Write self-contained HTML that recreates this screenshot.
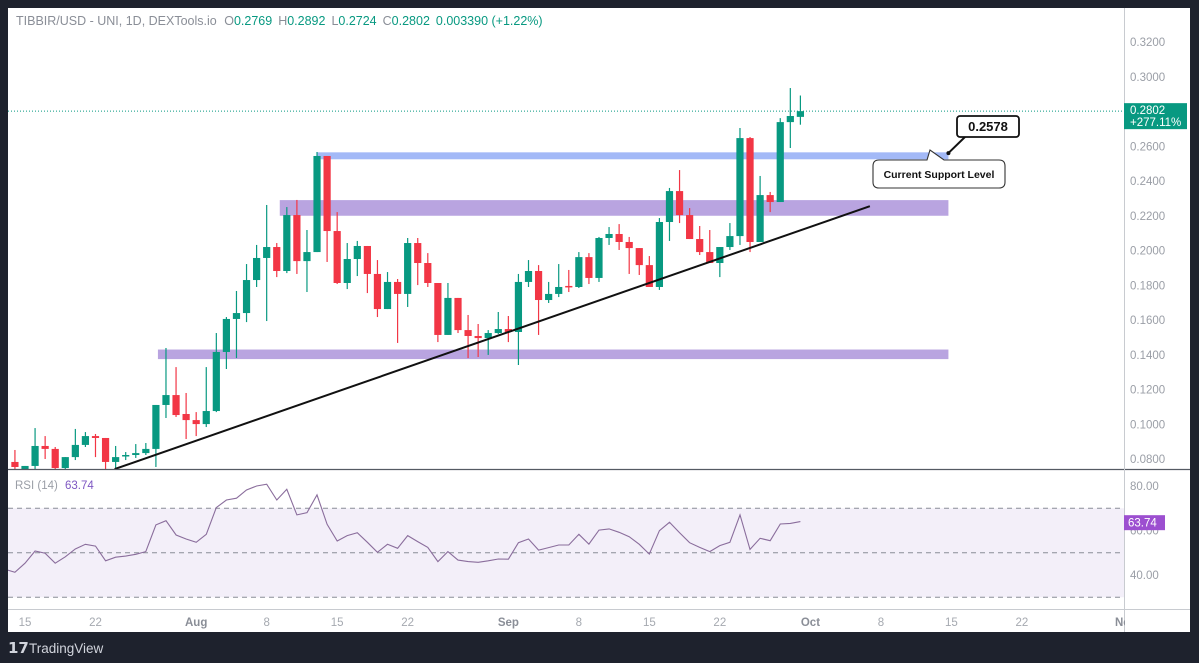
<!DOCTYPE html>
<html><head><meta charset="utf-8"><style>
html,body{margin:0;padding:0;background:#1e222d;}
svg{display:block;font-family:"Liberation Sans",sans-serif;}
</style></head><body>
<svg id="chart" width="1199" height="663" viewBox="0 0 1199 663">
<defs>
<clipPath id="mainClip"><rect x="8" y="8" width="1116" height="461"/></clipPath>
<clipPath id="rsiClip"><rect x="8" y="470" width="1116" height="139"/></clipPath>
</defs>
<rect x="8" y="8" width="1182" height="624" fill="#ffffff"/>
<g id="zones" clip-path="url(#mainClip)"></g>
<g id="candles" clip-path="url(#mainClip)"></g>
<g id="rsi" clip-path="url(#rsiClip)"></g>
<g id="axes"></g>
<g id="overlay"></g>
<text x="16" y="25" font-size="12.5" fill="#8a8e97">TIBBIR/USD - UNI, 1D, DEXTools.io <tspan dx="4">O</tspan><tspan fill="#089981">0.2769</tspan><tspan dx="6">H</tspan><tspan fill="#089981">0.2892</tspan><tspan dx="6">L</tspan><tspan fill="#089981">0.2724</tspan><tspan dx="6">C</tspan><tspan fill="#089981">0.2802</tspan><tspan dx="6" fill="#089981">0.003390 (+1.22%)</tspan></text>
<text x="15" y="489" font-size="11.5" fill="#9a9ea6">RSI (14) <tspan dx="4" fill="#7e57c2">63.74</tspan></text>
<g>
<text x="8" y="653" font-size="15" font-weight="bold" fill="#d1d4dc">𝟭𝟳</text>
<text x="29" y="653" font-size="13.5" fill="#d1d4dc">TradingView</text>
</g>
</svg>
<script>
// ---- data ----
const candleStartDay = -1; // Jul 14 (day 0 = Jul 15)
const opens  = [.0783,.0742,.0760,.0875,.0858,.0748,.0811,.0881,.0932,.0921,.0783,.0817,.0823,.0834,.0858,.1111,.1168,.1059,.1024,.1001,.1076,.1416,.1606,.1640,.1830,.1957,.2020,.1882,.2204,.1939,.1991,.2544,.2112,.1813,.1951,.2026,.1865,.1663,.1819,.1750,.2043,.1928,.1813,.1514,.1727,.1542,.1508,.1496,.1525,.1548,.1531,.1819,.1882,.1715,.1750,.1796,.1790,.1962,.1842,.2072,.2095,.2049,.2014,.1916,.1790,.2164,.2342,.2204,.2066,.1991,.1928,.2020,.2083,.2647,.2049,.2319,.2279,.2739,.2769];
const highs  = [.0852,.0760,.0978,.0932,.0869,.0811,.0973,.0955,.0944,.0921,.0875,.0840,.0886,.0892,.1111,.1439,.1329,.1180,.1070,.1329,.1525,.1617,.1767,.1922,.2032,.2262,.2043,.2250,.2291,.2118,.2567,.2544,.2221,.2043,.2055,.2026,.1945,.1876,.1836,.2072,.2072,.1985,.1813,.1813,.1727,.1629,.1577,.1542,.1646,.1623,.1865,.1945,.1916,.1819,.1922,.1888,.1991,.1985,.2078,.2135,.2152,.2078,.2014,.1968,.2187,.2360,.2463,.2244,.2141,.2118,.2020,.2158,.2705,.2653,.2429,.2337,.2762,.2935,.2892];
const lows   = [.0737,.0737,.0742,.0800,.0742,.0742,.0794,.0869,.0811,.0742,.0742,.0794,.0806,.0823,.0754,.1036,.1042,.0915,.0932,.0984,.1070,.1318,.1381,.1588,.1790,.1594,.1847,.1870,.1865,.1761,.1991,.1934,.1807,.1778,.1853,.1755,.1617,.1663,.1468,.1675,.1801,.1790,.1473,.1514,.1525,.1381,.1387,.1399,.1519,.1473,.1341,.1790,.1514,.1698,.1732,.1761,.1784,.1807,.1819,.2032,.2003,.1865,.1859,.1790,.1773,.2055,.2158,.2066,.1974,.1928,.1847,.2003,.2032,.1991,.2049,.2221,.2279,.2590,.2724];
const closes = [.0754,.0760,.0875,.0858,.0748,.0811,.0881,.0932,.0921,.0783,.0811,.0823,.0834,.0858,.1111,.1168,.1053,.1024,.1001,.1076,.1416,.1606,.1640,.1830,.1957,.2020,.1882,.2204,.1939,.1991,.2544,.2112,.1813,.1951,.2026,.1865,.1663,.1819,.1750,.2043,.1928,.1813,.1514,.1727,.1542,.1508,.1496,.1525,.1548,.1531,.1819,.1882,.1715,.1750,.1790,.1790,.1962,.1842,.2072,.2095,.2049,.2014,.1916,.1790,.2164,.2342,.2204,.2066,.1991,.1928,.2020,.2083,.2647,.2049,.2319,.2279,.2739,.2774,.2802];
const rsiStartDay = -2; // Jul 13
const rsiValues = [42.6,41.2,45.3,50.8,49.8,45.3,48.2,51.7,53.8,53.0,46.4,48.0,48.5,49.3,50.5,62.5,64.4,58.0,56.2,54.7,58.3,70.3,73.7,74.5,78.2,80.0,80.8,73.7,78.5,67.0,68.0,76.0,62.8,55.3,57.7,59.0,54.7,50.2,53.8,52.0,57.7,55.0,52.4,46.0,50.5,46.7,46.0,45.7,46.4,47.2,47.1,54.5,56.2,51.2,52.3,53.5,53.5,58.3,53.9,60.2,60.7,59.2,57.2,53.8,49.4,59.9,63.7,59.0,54.5,52.4,50.5,53.2,54.7,67.0,51.5,56.5,55.4,62.9,63.2,64.0];
const priceTicks = [0.32,0.30,0.26,0.24,0.22,0.20,0.18,0.16,0.14,0.12,0.10,0.08];
const rsiTicks = [80,60,40];
const rsiBands = [70,50,30];
const timeTickDays = [0,7,17,24,31,38,48,55,62,69,78,85,92,99,109];
const timeTickLabels = ["15","22","Aug","8","15","22","Sep","8","15","22","Oct","8","15","22","No"];
const zoneTops = [0.2565,0.2290,0.1430];
const zoneBottoms = [0.2525,0.2200,0.1375];
const zoneStartDays = [29.0,25.3,13.2];
const zoneEndDay = 91.7;
const lastPrice = 0.2802;
const lastRsi = 63.74;
const supportLevel = 0.2578;
const trendStart = [8.9,0.0742];
const trendEnd = [83.9,0.2255];

// ---- scales ----
const xOf = d => 25 + d*10.07;
const yOf = p => 459 - (p-0.08)*1737.5;
const yR = v => 530.5 - (v-60)*2.225;
const NS='http://www.w3.org/2000/svg';
function mk(tag, attrs, parent){const e=document.createElementNS(NS,tag);for(const k in attrs)e.setAttribute(k,attrs[k]);parent.appendChild(e);return e;}

// zones
const zg=document.getElementById('zones');
const zoneColors=['#a3b9f7','#b9a4e0','#b9a4e0'];
const zoneNames=['support-zone-upper','resistance-zone-middle','support-zone-lower'];
for(let i=0;i<zoneTops.length;i++){
  const r=mk('rect',{x:xOf(zoneStartDays[i]),y:yOf(zoneTops[i]),width:xOf(zoneEndDay)-xOf(zoneStartDays[i]),height:yOf(zoneBottoms[i])-yOf(zoneTops[i]),fill:zoneColors[i]},zg);
  
  
}
// candles
const cg=document.getElementById('candles');
for(let i=0;i<opens.length;i++){
  const x=xOf(candleStartDay+i), up=closes[i]>=opens[i], col=up?'#089981':'#f23645';
  const g=mk('g',{},cg);
  
  
  mk('line',{x1:x,x2:x,y1:yOf(highs[i]),y2:yOf(lows[i]),stroke:col,'stroke-width':1.2},g);
  const t=yOf(Math.max(opens[i],closes[i])), b=yOf(Math.min(opens[i],closes[i]));
  mk('rect',{x:x-3.6,y:t,width:7.2,height:Math.max(1.5,b-t),fill:col},g);
}
// trendline
const tl=mk('line',{x1:xOf(trendStart[0]),y1:yOf(trendStart[1]),x2:xOf(trendEnd[0]),y2:yOf(trendEnd[1]),stroke:'#111','stroke-width':2},cg);


// last price line
const lp=mk('line',{x1:8,x2:1124,y1:yOf(lastPrice),y2:yOf(lastPrice),stroke:'#089981','stroke-width':1,'stroke-dasharray':'1 2'},cg);



// rsi
const rg=document.getElementById('rsi');
const bg=mk('rect',{x:8,y:yR(rsiBands[0]),width:1116,height:yR(rsiBands[2])-yR(rsiBands[0]),fill:'#f3eff9'},rg);


rsiBands.forEach(v=>{
  const l=mk('line',{x1:8,x2:1124,y1:yR(v),y2:yR(v),stroke:'#8a8e97','stroke-width':1,'stroke-dasharray':'5 4'},rg);
  
  
});
const pts=rsiValues.map((v,i)=>xOf(rsiStartDay+i).toFixed(1)+','+yR(v).toFixed(1)).join(' ');
const rl=mk('polyline',{points:pts,fill:'none',stroke:'#8a6d9c','stroke-width':1.1},rg);



// axes
const ag=document.getElementById('axes');
mk('line',{x1:8,x2:1190,y1:469.5,y2:469.5,stroke:'#555a63','stroke-width':1.2},ag);
mk('line',{x1:8,x2:1190,y1:609.5,y2:609.5,stroke:'#c8cbd0','stroke-width':1},ag);
mk('line',{x1:1124.5,x2:1124.5,y1:8,y2:632,stroke:'#c8cbd0','stroke-width':1},ag);
priceTicks.forEach(p=>{
  const t=mk('text',{x:1130,y:yOf(p)+4,'font-size':11.5,fill:'#9a9ea6'},ag);
  t.textContent=p.toFixed(4);
  
  
});
rsiTicks.forEach(v=>{
  const t=mk('text',{x:1130,y:yR(v)+4,'font-size':11.5,fill:'#9a9ea6'},ag);
  t.textContent=v.toFixed(2);
  
  
});
timeTickDays.forEach((d,i)=>{
  const bold=isNaN(+timeTickLabels[i]);
  const t=mk('text',{x:xOf(d),y:626,'font-size':11.5,fill:bold?'#8a8e97':'#a5a9b0','font-weight':bold?'bold':'normal','text-anchor':'middle'},ag);
  t.textContent=timeTickLabels[i];
  
  
});
mk('rect',{x:1125,y:610,width:65,height:22,fill:'#fff'},ag);

// overlay labels
const og=document.getElementById('overlay');
const yl=yOf(lastPrice);
const pb=mk('g',{},og);


mk('rect',{x:1124,y:yl-8,width:63,height:26,fill:'#089981'},pb);
const t1=mk('text',{x:1130,y:yl+3,'font-size':11.5,fill:'#fff'},pb);t1.textContent=lastPrice.toFixed(4);
const t2=mk('text',{x:1130,y:yl+15,'font-size':11.5,fill:'#fff'},pb);t2.textContent='+277.11%';
const yr=yR(lastRsi);
const rb=mk('g',{},og);


mk('rect',{x:1124,y:yr-7,width:41,height:15,fill:'#9c4fd0'},rb);
const t3=mk('text',{x:1128,y:yr+4.5,'font-size':11.5,fill:'#fff'},rb);t3.textContent=lastRsi.toFixed(2);

// support callouts
const sx=xOf(zoneEndDay), sy=yOf(supportLevel)+3;
const c1=mk('g',{},og);


mk('line',{x1:sx,y1:sy,x2:966,y2:136,stroke:'#111','stroke-width':2},c1);
mk('circle',{cx:sx,cy:sy,r:2,fill:'#111'},c1);
mk('rect',{x:957,y:116,width:62,height:21,rx:3,fill:'#fff',stroke:'#111','stroke-width':1.8},c1);
const t4=mk('text',{x:988,y:131,'font-size':13,'font-weight':'bold',fill:'#111','text-anchor':'middle'},c1);t4.textContent=supportLevel.toFixed(4);
const c2=mk('g',{},og);


mk('path',{d:'M879 160 L927 160 L930 150 L944 160 L999 160 Q1005 160 1005 166 L1005 182 Q1005 188 999 188 L879 188 Q873 188 873 182 L873 166 Q873 160 879 160 Z',fill:'#fff',stroke:'#333','stroke-width':1.1},c2);
const t5=mk('text',{x:939,y:178,'font-size':10.5,'font-weight':'bold',fill:'#111','text-anchor':'middle'},c2);t5.textContent='Current Support Level';
</script>
</body></html>
